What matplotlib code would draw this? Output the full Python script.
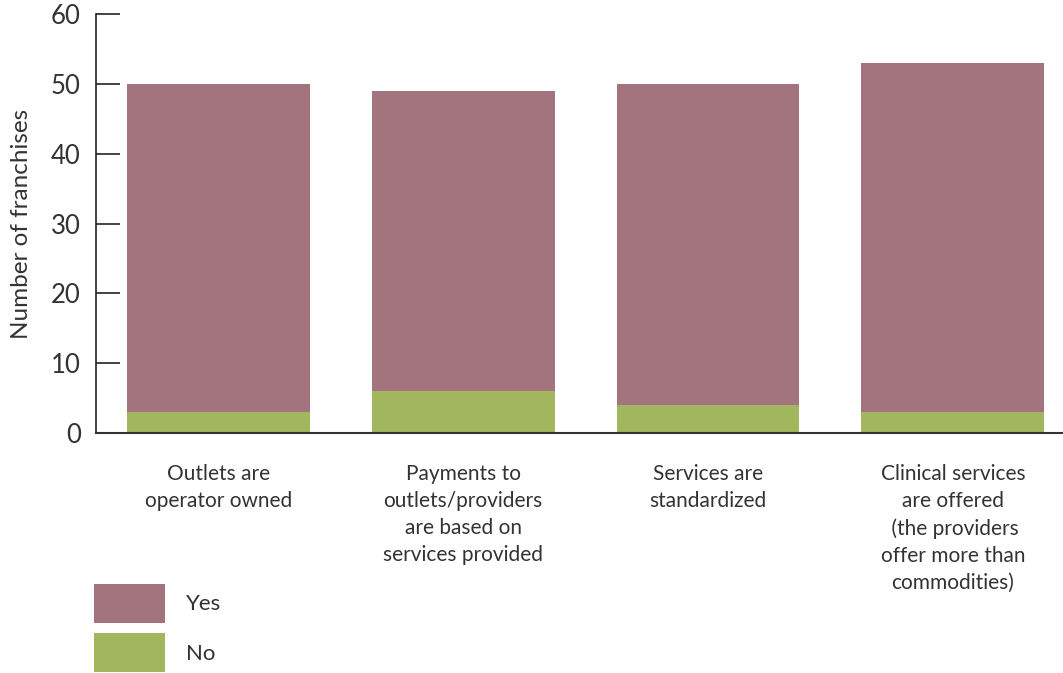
import matplotlib
matplotlib.use('Agg')
import matplotlib.pyplot as plt
import numpy as np

categories = ['Outlets are\noperator owned',
              'Payments to\noutlets/providers\nare based on\nservices provided',
              'Services are\nstandardized',
              'Clinical services\nare offered\n (the providers\noffer more than\ncommodities)']
no_vals = [3, 6, 4, 3]
yes_vals = [47, 43, 46, 50]

yes_color = '#A3737E'
no_color = '#A2B65D'
text_color = '#333333'

plt.rcParams['font.family'] = ['Lato', 'DejaVu Sans']

fig = plt.figure(figsize=(10.63, 6.73), dpi=100)
ax = fig.add_axes([96 / 1063, 240 / 673, 1 - 96 / 1063, 419 / 673])

x = np.arange(len(categories))
ax.bar(x, no_vals, width=0.747, color=no_color, label='No')
ax.bar(x, yes_vals, width=0.747, bottom=no_vals, color=yes_color, label='Yes')

ax.set_xlim(-0.5, 3.45)
ax.set_ylim(0, 60)
ax.set_yticks(range(0, 61, 10))
ax.tick_params(axis='y', direction='in', length=17, width=1.2, pad=11,
               labelsize=18.5, colors='#222222', labelcolor=text_color)
ax.set_xticks(x)
ax.set_xticklabels(categories, fontsize=15, color=text_color, linespacing=1.45, va='top')
ax.tick_params(axis='x', length=0, pad=22)
ax.set_ylabel('Number of franchises', fontsize=17.5, color=text_color)
ax.yaxis.set_label_coords(-0.066, 0.5)

for s in ['top', 'right']:
    ax.spines[s].set_visible(False)
ax.spines['left'].set_linewidth(1.2)
ax.spines['bottom'].set_linewidth(1.5)
ax.spines['left'].set_color('#222222')
ax.spines['bottom'].set_color('#333333')

handles, labels = ax.get_legend_handles_labels()
fig.legend(handles[::-1], labels[::-1], loc='upper left',
           bbox_to_anchor=(94 / 1063, 1 - 584 / 673), frameon=False,
           fontsize=16, handlelength=3.2, handleheight=2.33,
           labelspacing=0.45, handletextpad=0.95, borderpad=0, borderaxespad=0,
           labelcolor=text_color)

fig.savefig('out.png', dpi=100)
